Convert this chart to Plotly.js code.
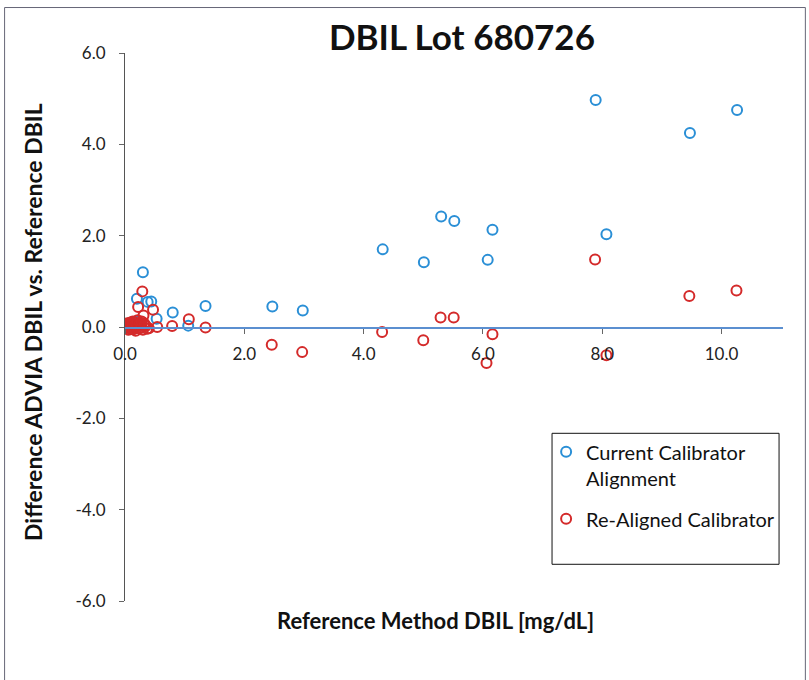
<!DOCTYPE html>
<html>
<head>
<meta charset="utf-8">
<script src="https://cdn.plot.ly/plotly-3.0.1.min.js"></script>
<style>
html,body{margin:0;padding:0;background:#fff;}
#chart{width:809px;height:680px;}
</style>
</head>
<body>
<div id="chart"></div>
<script>
// Current Calibrator Alignment
const currentX = [0.05,0.08,0.10,0.12,0.15,0.18,0.20,0.30,0.38,0.44,0.53,0.80,1.06,1.35,2.47,2.98,4.32,5.01,5.30,5.52,6.08,6.16,7.89,8.07,9.47,10.26];
const currentY = [0.02,0.05,0.03,0.08,0.10,0.12,0.62,1.20,0.55,0.56,0.18,0.32,0.03,0.46,0.45,0.36,1.70,1.42,2.42,2.32,1.47,2.13,4.97,2.03,4.25,4.75];
// Re-Aligned Calibrator
const realignedX = [0.01,0.02,0.03,0.04,0.05,0.06,0.07,0.08,0.09,0.10,0.11,0.12,0.13,0.14,0.15,0.16,0.17,0.18,0.19,0.20,0.21,0.22,0.23,0.24,0.25,0.26,0.27,0.28,0.29,0.30,0.31,0.32,0.33,0.35,0.37,0.40,0.47,0.54,0.79,1.07,1.35,2.46,2.97,4.31,5.00,5.29,5.51,6.06,6.16,7.88,8.07,9.46,10.25];
const realignedY = [0.04,-0.02,0.02,0.08,0.00,-0.06,0.05,-0.03,0.10,0.08,-0.04,0.02,0.12,-0.05,0.10,0.01,0.04,-0.08,0.00,0.06,0.15,0.44,-0.03,0.06,0.09,-0.02,0.03,0.12,0.78,-0.06,0.25,0.08,0.05,0.02,-0.04,-0.03,0.38,0.00,0.02,0.17,-0.01,-0.39,-0.55,-0.11,-0.29,0.21,0.21,-0.79,-0.16,1.48,-0.62,0.68,0.80];

const xTicks = [0,2,4,6,8,10];
const xTickText = ['0.0','2.0','4.0','6.0','8.0','10.0'];
const yTicks = [-6,-4,-2,0,2,4,6];
const yTickText = ['-6.0','-4.0','-2.0','0.0','2.0','4.0','6.0'];
const seriesNames = ['Current Calibrator<br>Alignment','Re-Aligned Calibrator'];
const titleText = 'DBIL Lot 680726';
const xTitle = 'Reference Method DBIL [mg/dL]';
const yTitle = 'Difference ADVIA DBIL vs. Reference DBIL';

const FONT = 'Lato, "Open Sans", sans-serif';

const traces = [
  {x: currentX, y: currentY, name: seriesNames[0], legendgroup: 'a', type: 'scatter', mode: 'markers',
   marker: {symbol: 'circle-open', size: 10, color: '#2a8fd6', line: {width: 2, color: '#2a8fd6'}}},
  {x: realignedX, y: realignedY, name: seriesNames[1], legendgroup: 'b', type: 'scatter', mode: 'markers',
   marker: {symbol: 'circle-open', size: 10, color: '#d42a2a', line: {width: 2, color: '#d42a2a'}}}
];

const layout = {
  width: 809, height: 680,
  margin: {l: 125, r: 26, t: 53, b: 79},
  paper_bgcolor: '#fff', plot_bgcolor: '#fff',
  font: {family: FONT, color: '#222', size: 17},
  showlegend: true,
  title: {text: '<b>' + titleText + '</b>', font: {family: FONT, size: 35, color: '#111'},
          x: 0.571, xref: 'container', xanchor: 'center', y: 0.944, yref: 'container', yanchor: 'middle'},
  xaxis: {range: [0, 11.03], tickvals: xTicks, ticktext: xTickText, showgrid: false, zeroline: false,
          showline: true, linecolor: '#5b8fd0', linewidth: 1.5, ticks: 'outside', ticklen: 5, tickcolor: '#666',
          anchor: 'free', position: 0.5, side: 'bottom', ticklabelstandoff: 6,
          tickfont: {family: FONT, size: 17, color: '#222'}},
  yaxis: {range: [-6, 6], tickvals: yTicks, ticktext: yTickText, showgrid: false, zeroline: false,
          showline: true, linecolor: '#555', linewidth: 1, ticks: 'outside', ticklen: 5, tickcolor: '#666',
          ticklabelstandoff: 10, tickfont: {family: FONT, size: 17, color: '#222'}},
  legend: {x: 0.64, y: 0.308, xanchor: 'left', yanchor: 'top', bgcolor: 'rgba(0,0,0,0)', borderwidth: 0,
           valign: 'top', traceorder: 'grouped', tracegroupgap: 12, font: {family: FONT, size: 20, color: '#111'}},
  shapes: [
    {type: 'rect', xref: 'paper', yref: 'paper', x0: 0.649, x1: 0.994, y0: 0.067, y1: 0.306,
     line: {color: '#111', width: 1}, fillcolor: 'rgba(255,255,255,0)', layer: 'below'},
    {type: 'rect', xref: 'paper', yref: 'paper', x0: -0.183, x1: 1.034, y0: -0.2, y1: 1.083,
     line: {color: '#667', width: 1}, fillcolor: 'rgba(0,0,0,0)', layer: 'below'}
  ],
  annotations: [
    {text: '<b>' + xTitle + '</b>', xref: 'paper', yref: 'paper', x: 0.472, y: -0.035,
     xanchor: 'center', yanchor: 'middle', showarrow: false, font: {family: FONT, size: 22, color: '#111'}},
    {text: '<b>' + yTitle + '</b>', xref: 'paper', yref: 'paper', x: -0.14, y: 0.509, textangle: -90,
     xanchor: 'center', yanchor: 'middle', showarrow: false, font: {family: FONT, size: 23, color: '#111'}}
  ]
};

Plotly.newPlot('chart', traces, layout, {displayModeBar: false, staticPlot: true});
</script>
</body>
</html>
